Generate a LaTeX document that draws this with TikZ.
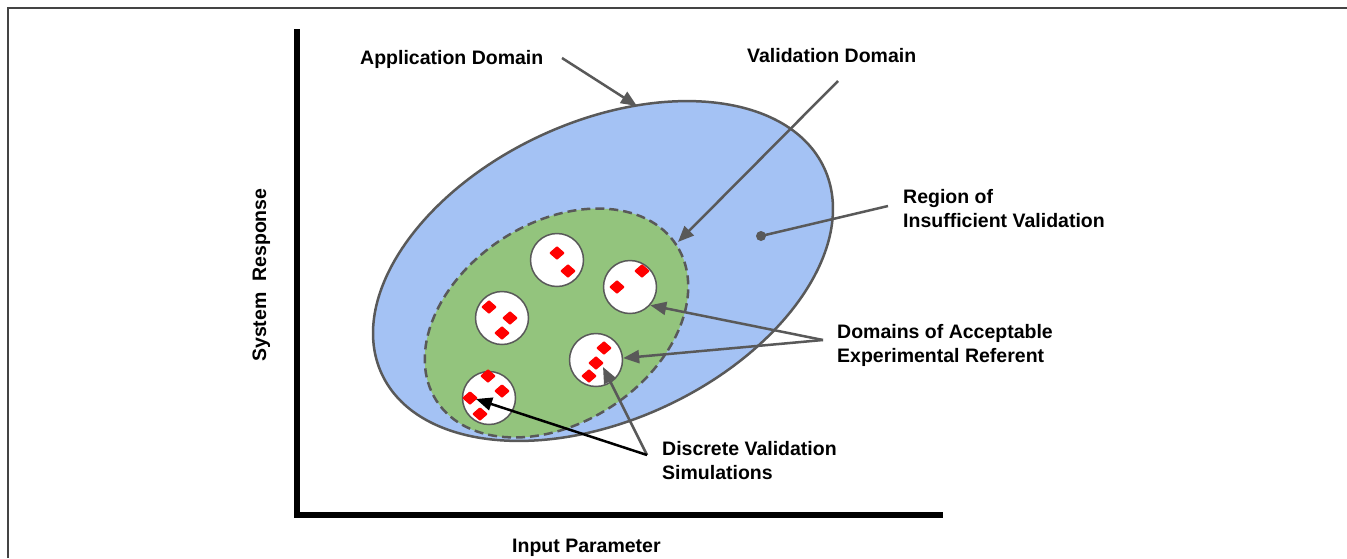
\documentclass[tikz,border=0pt]{standalone}
\usepackage{fontspec}
\setmainfont{Liberation Sans}
\usetikzlibrary{arrows.meta,shapes.geometric}
\definecolor{bluefill}{HTML}{A4C2F4}
\definecolor{greenfill}{HTML}{93C47D}
\definecolor{lgray}{HTML}{595959}
\definecolor{framegray}{HTML}{444444}
\begin{document}
\begin{tikzpicture}[x=1pt,y=-1pt,
  lbl/.style={font=\fontsize{19.5}{24}\selectfont\bfseries, inner sep=0pt, anchor=base west, align=left},
  garrow/.style={draw=lgray, line width=2.5pt, -{Triangle[length=16pt,width=13pt]}},
  barrow/.style={draw=black, line width=2.5pt, -{Triangle[length=16pt,width=13pt]}},
  dom/.style={circle, draw=lgray, line width=1.5pt, fill=white, minimum size=53pt, inner sep=0pt},
  pt/.style={diamond, fill=red, minimum width=16pt, minimum height=14pt, inner sep=0pt, rounded corners=1pt},
]
\useasboundingbox (0,0) rectangle (1347,558);
\fill[white] (0,0) rectangle (1347,558);
% frame
\draw[line width=1.5pt, framegray] (8,558) -- (8,8) -- (1347,8);
% axes
\draw[line width=5.5pt, black] (297,29) -- (297,515) -- (943,515);
% application domain
\draw[fill=bluefill, draw=lgray, line width=2.5pt, rotate around={25:(603,271)}]
  (603,271) ellipse [x radius=244pt, y radius=149pt];
% validation domain
\draw[fill=greenfill, draw=lgray, line width=2.5pt, dash pattern=on 9pt off 5pt, rotate around={33:(556.5,323)}]
  (556.5,323) ellipse [x radius=143pt, y radius=100pt];
% domains of acceptable experimental referent
\node[dom] (c1) at (557,260) {};
\node[dom] (c2) at (630,287) {};
\node[dom] (c3) at (502,318) {};
\node[dom] (c4) at (596,360) {};
\node[dom] (c5) at (489,398) {};
% discrete validation simulations
\node[pt] (p11) at (557,253) {};
\node[pt] (p12) at (568,271) {};
\node[pt] (p21) at (617,287) {};
\node[pt] (p22) at (642,271) {};
\node[pt] (p31) at (489,307) {};
\node[pt] (p32) at (510,318) {};
\node[pt] (p33) at (502,333) {};
\node[pt] (p41) at (604,348) {};
\node[pt] (p42) at (596,363) {};
\node[pt] (p43) at (589,376) {};
\node[pt] (p51) at (488,376) {};
\node[pt] (p52) at (502,391) {};
\node[pt] (p53) at (470,398) {};
\node[pt] (p54) at (480,414) {};
% dot
\node[circle, fill=lgray, minimum size=10pt, inner sep=0pt] (dot) at (761,236) {};
% labels
\node[lbl] (tapp) at (360,64) {Application Domain};
\node[lbl] (tval) at (747,62) {Validation Domain};
\node[lbl] (treg) at (903,227) {Region of\\Insufficient Validation};
\node[lbl] (tdom) at (837,362) {Domains of Acceptable\\Experimental Referent};
\node[lbl] (tdis) at (662,479) {Discrete Validation\\Simulations};
\node[lbl] (tin) at (512,552) {Input Parameter};
\node[lbl, rotate=90] (tsys) at (266,362) {System\ \ Response};
% connector end points
\coordinate (appS) at (562,58);
\coordinate (appT) at (637,106);
\coordinate (valS) at (838,81);
\coordinate (valT) at (678,242);
\coordinate (regS) at (888,206);
\coordinate (domS) at (823,340);
\coordinate (disS) at (647,455);
\coordinate (disT5) at (476,399);
\coordinate (disT4) at (603,367);
% connectors
\draw[garrow] (appS) -- (appT);
\draw[garrow] (valS) -- (valT);
\draw[draw=lgray, line width=2.5pt] (regS) -- (dot.center);
\draw[garrow] (domS) -- (c2.-42);
\draw[garrow] (domS) -- (c4.4);
\draw[garrow] (disS) -- (disT4);
\draw[barrow] (disS) -- (disT5);
\end{tikzpicture}
\end{document}
